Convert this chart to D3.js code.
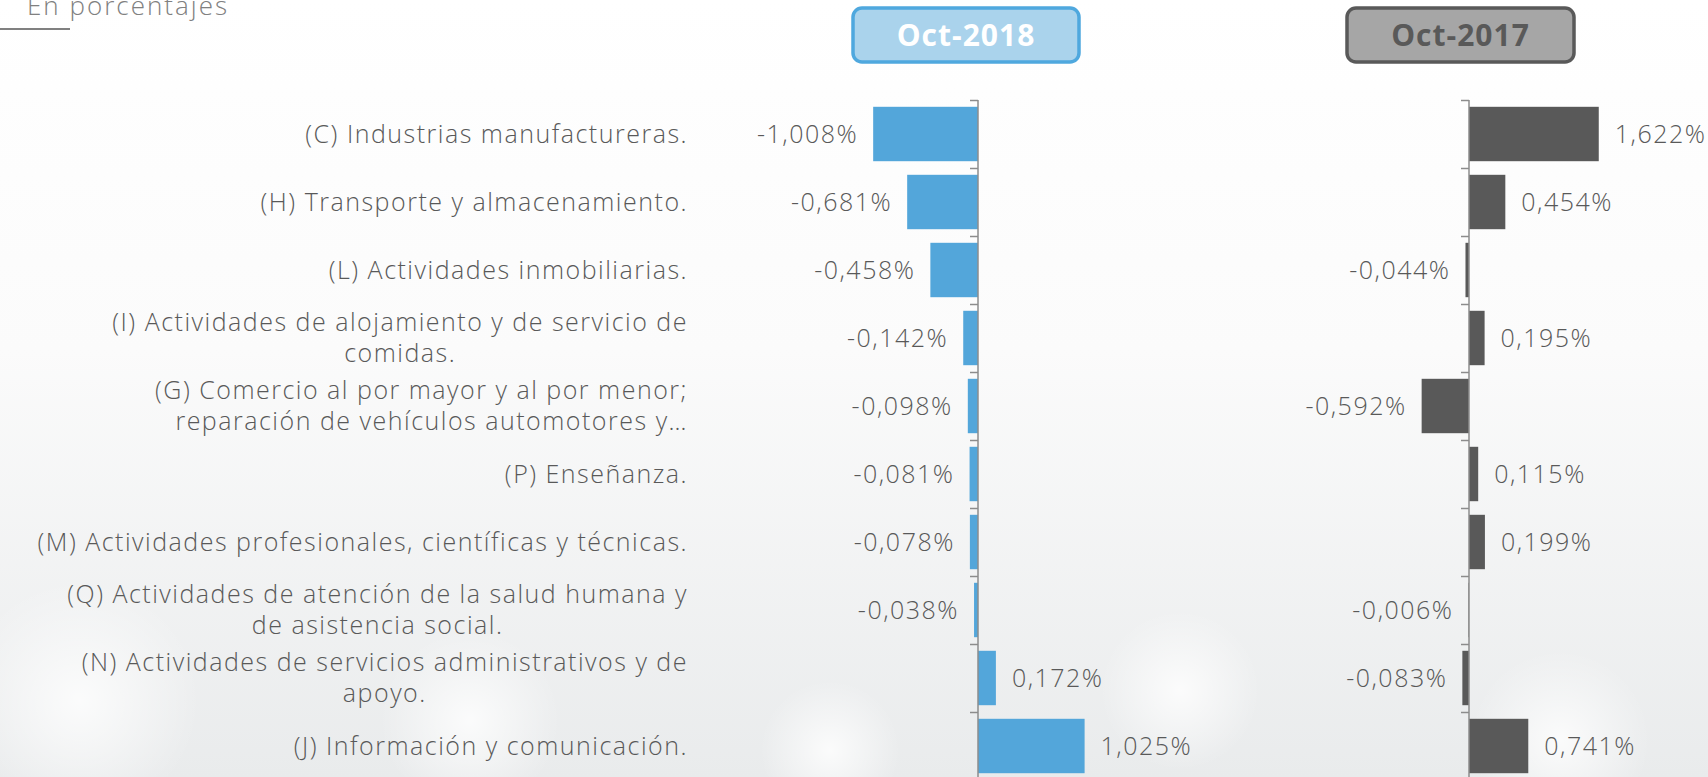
<!DOCTYPE html>
<html>
<head>
<meta charset="utf-8">
<script src="https://cdn.jsdelivr.net/npm/d3@7"></script>
<style>
  html, body { margin: 0; padding: 0; overflow: hidden; background: #fff; }
  svg text { font-family: "Open Sans", Lato, sans-serif; }
</style>
</head>
<body>
<div id="chart"></div>
<script>
// sector contributions, in percent
const categories = [
    '(C) Industrias manufactureras.',
    '(H) Transporte y almacenamiento.',
    '(L) Actividades inmobiliarias.',
    '(I) Actividades de alojamiento y de servicio de\ncomidas.',
    '(G) Comercio al por mayor y al por menor;\nreparación de vehículos automotores y…',
    '(P) Enseñanza.',
    '(M) Actividades profesionales, científicas y técnicas.',
    '(Q) Actividades de atención de la salud humana y\nde asistencia social.',
    '(N) Actividades de servicios administrativos y de\napoyo.',
    '(J) Información y comunicación.'
];
const values2018 = [-1.008, -0.681, -0.458, -0.142, -0.098, -0.081, -0.078, -0.038, 0.172, 1.025];
const values2017 = [1.622, 0.454, -0.044, 0.195, -0.592, 0.115, 0.199, -0.006, -0.083, 0.741];
const seriesNames = ['Oct-2018', 'Oct-2017'];

const W = 1708, H = 777;
const textColor = '#595959';
const fontSize = '25px';
const spacing = '1.5px';
const fmt = v => d3.format('.3f')(v).replace('.', ',').replace('−', '-') + '%';

const svg = d3.select('#chart').append('svg').attr('width', W).attr('height', H);

// background
const defs = svg.append('defs');
const bg = defs.append('linearGradient').attr('id', 'bg').attr('x1', 0).attr('y1', 0).attr('x2', 0).attr('y2', 1);
bg.append('stop').attr('offset', '0%').attr('stop-color', '#ffffff');
bg.append('stop').attr('offset', '45%').attr('stop-color', '#fbfbfb');
bg.append('stop').attr('offset', '100%').attr('stop-color', '#e9ebec');
svg.append('rect').attr('width', W).attr('height', H).attr('fill', 'url(#bg)');

const glow = defs.append('radialGradient').attr('id', 'glow');
glow.append('stop').attr('offset', '0%').attr('stop-color', '#ffffff').attr('stop-opacity', 0.8);
glow.append('stop').attr('offset', '100%').attr('stop-color', '#ffffff').attr('stop-opacity', 0);
[[80, 700, 120], [470, 720, 90], [830, 750, 70], [1180, 690, 80], [1560, 740, 90]].forEach(([cx, cy, r]) => {
    svg.append('circle').attr('cx', cx).attr('cy', cy).attr('r', r).attr('fill', 'url(#glow)');
});

// subtitle
svg.append('text').attr('x', 27).attr('y', 15)
    .style('font-size', '26px').style('font-weight', 300).style('letter-spacing', '2px')
    .style('fill', '#808080').text('En porcentajes');
svg.append('line').attr('x1', 0).attr('x2', 70).attr('y1', 29).attr('y2', 29)
    .attr('stroke', '#808080').attr('stroke-width', 2);

const y = d3.scaleBand().domain(categories).range([100, 780]).paddingInner(0.2).paddingOuter(0.1);
const xL = d3.scaleLinear().domain([-1.2, 1.2]).range([978 - 124.8, 978 + 124.8]);
const xR = d3.scaleLinear().domain([-1.2, 1.8]).range([1469 - 96, 1469 + 144]);

// category labels
const lab = svg.append('g');
categories.forEach(c => {
    const lines = c.split('\n');
    const cy = y(c) + y.bandwidth() / 2;
    const lh = 31;
    const t = lab.append('text')
        .style('font-size', fontSize).style('font-weight', 300).style('letter-spacing', spacing)
        .style('fill', textColor)
        .attr('text-anchor', 'end');
    lines.forEach((l, i) => {
        t.append('tspan').attr('x', 688)
            .attr('y', cy + (i - (lines.length - 1) / 2) * lh)
            .attr('dy', '0.35em').text(l);
    });
    // wrapped lines are centred under the first one (Excel style), unless truncated
    if (lines.length > 1 && !c.endsWith('…')) {
        const spans = t.selectAll('tspan').nodes();
        const w0 = spans[0].getComputedTextLength();
        const mid = 688 - w0 / 2;
        d3.select(spans[1]).attr('x', mid).attr('text-anchor', 'middle');
    }
});

function panel(x, vals, color, header, boxFill, boxStroke, headTextColor, boxX, boxW) {
    const g = svg.append('g');
    g.selectAll('rect.bar').data(vals).enter().append('rect')
        .attr('class', 'bar')
        .attr('x', d => x(Math.min(0, d)))
        .attr('width', d => Math.abs(x(d) - x(0)))
        .attr('y', (d, i) => y(categories[i]))
        .attr('height', y.bandwidth())
        .attr('fill', color);

    // axis at zero with ticks on band boundaries
    const x0 = x(0);
    g.append('line').attr('x1', x0).attr('x2', x0).attr('y1', 100).attr('y2', 780)
        .attr('stroke', '#8c8c8c').attr('stroke-width', 1.5);
    const bounds = categories.map(c => y(c) - y.step() * y.paddingInner() / 2 + 0.5);
    g.selectAll('line.tick').data(bounds).enter().append('line')
        .attr('class', 'tick')
        .attr('x1', x0 - 8).attr('x2', x0).attr('y1', d => d).attr('y2', d => d)
        .attr('stroke', '#8c8c8c').attr('stroke-width', 1.5);

    g.selectAll('text.val').data(vals).enter().append('text')
        .attr('class', 'val')
        .attr('x', d => d < 0 ? x(d) - 15 : x(d) + 16)
        .attr('y', (d, i) => y(categories[i]) + y.bandwidth() / 2)
        .attr('dy', '0.35em')
        .attr('text-anchor', d => d < 0 ? 'end' : 'start')
        .style('font-size', fontSize).style('font-weight', 300).style('letter-spacing', spacing)
        .style('fill', textColor)
        .text(fmt);

    // header box
    g.append('rect').attr('x', boxX).attr('y', 8).attr('width', boxW).attr('height', 54)
        .attr('rx', 9).attr('fill', boxFill).attr('stroke', boxStroke).attr('stroke-width', 3.5);
    g.append('text').attr('x', boxX + boxW / 2).attr('y', 35).attr('dy', '0.36em')
        .attr('text-anchor', 'middle')
        .style('font-size', '30px').style('font-weight', 'bold').style('letter-spacing', '1px')
        .style('fill', headTextColor)
        .text(header);
}

panel(xL, values2018, '#53a6da', seriesNames[0], '#aad3ec', '#4fa8de', '#ffffff', 853, 226);
panel(xR, values2017, '#595959', seriesNames[1], '#a6a6a6', '#595959', '#595959', 1347, 227);
</script>
</body>
</html>
